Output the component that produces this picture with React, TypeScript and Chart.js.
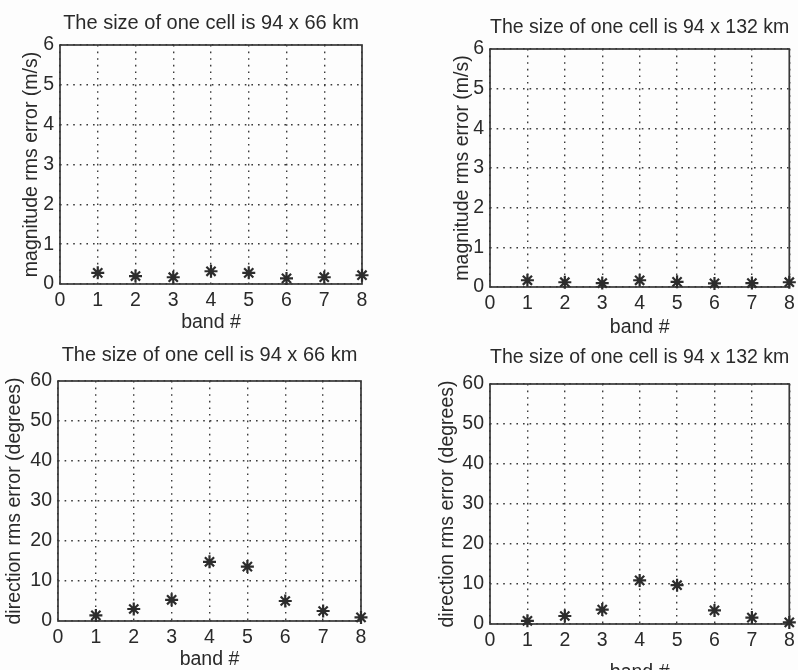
import React, { useEffect, useRef } from "react";
import { Chart, registerables } from "chart.js";

Chart.register(...registerables);

// ---- data ----
const bands = [1, 2, 3, 4, 5, 6, 7, 8];
const magRms66 = [0.28, 0.2, 0.17, 0.32, 0.28, 0.14, 0.17, 0.22];
const magRms132 = [0.17, 0.12, 0.1, 0.17, 0.13, 0.09, 0.1, 0.12];
const dirRms66 = [1.4, 3.0, 5.3, 14.8, 13.6, 5.0, 2.5, 0.9];
const dirRms132 = [0.8, 2.0, 3.6, 10.9, 9.7, 3.4, 1.6, 0.4];

const title66 = "The size of one cell is 94 x 66 km";
const title132 = "The size of one cell is 94 x 132 km";
const magLabel = "magnitude rms error (m/s)";
const dirLabel = "direction rms error (degrees)";
const xLabel = "band #";
const xRange = [0, 8];
const magRange = [0, 6];
const magStep = 1;
const dirRange = [0, 60];
const dirStep = 10;

const FONT = '"Liberation Sans", Arial, Helvetica, sans-serif';
const TEXT = "#2a2a2a";
const LINE = "#383838";
const TITLE_SIZE = 20;
const LABEL_SIZE = 19.5;
const TICK_SIZE = 19.5;

type Panel = {
  left: number; top: number; w: number; h: number;
  yW: number; yTitleCenter: number;
  titleCenter: number; chartTop: number;
  chartBottom: number; xTitleCenter: number;
  padRight: number;
  title: string; yLabel: string; values: number[];
  yMin: number; yMax: number; yStep: number;
};

// geometry (relative to each canvas)
const panels: Panel[] = [
  { left: 0, top: 0, w: 399, h: 360, yW: 60, yTitleCenter: 32, titleCenter: 23, chartTop: 45, chartBottom: 284, xTitleCenter: 323, padRight: 37,
    title: title66, yLabel: magLabel, values: magRms66, yMin: magRange[0], yMax: magRange[1], yStep: magStep },
  { left: 399, top: 0, w: 399, h: 360, yW: 91, yTitleCenter: 64, titleCenter: 27, chartTop: 49, chartBottom: 287, xTitleCenter: 328, padRight: 4,
    title: title132, yLabel: magLabel, values: magRms132, yMin: magRange[0], yMax: magRange[1], yStep: magStep },
  { left: 0, top: 335, w: 399, h: 360, yW: 58, yTitleCenter: 15, titleCenter: 20, chartTop: 46, chartBottom: 286, xTitleCenter: 325, padRight: 38,
    title: title66, yLabel: dirLabel, values: dirRms66, yMin: dirRange[0], yMax: dirRange[1], yStep: dirStep },
  { left: 399, top: 335, w: 399, h: 360, yW: 91, yTitleCenter: 49, titleCenter: 22, chartTop: 49, chartBottom: 289, xTitleCenter: 338, padRight: 6,
    title: title132, yLabel: dirLabel, values: dirRms132, yMin: dirRange[0], yMax: dirRange[1], yStep: dirStep },
];

const framePlugin = {
  id: "frame",
  beforeDatasetsDraw(chart: any) {
    const { ctx, chartArea } = chart;
    ctx.save();
    ctx.strokeStyle = LINE;
    ctx.lineWidth = 1.7;
    ctx.setLineDash([]);
    ctx.strokeRect(chartArea.left, chartArea.top, chartArea.right - chartArea.left, chartArea.bottom - chartArea.top);
    ctx.restore();
  },
};

function PanelChart({ p }: { p: Panel }) {
  const ref = useRef<HTMLCanvasElement | null>(null);
  useEffect(() => {
    if (!ref.current) return;
    const tLH = TITLE_SIZE * 1.2;
    const lLH = LABEL_SIZE * 1.2;
    const tPadTop = p.titleCenter - tLH / 2;
    const tPadBottom = p.chartTop - tLH - tPadTop;
    const xH = p.h - p.chartBottom;
    const xTitlePadBottom = p.h - p.xTitleCenter - lLH / 2;
    const yTitlePad = p.yTitleCenter - lLH / 2;
    const chart = new Chart(ref.current, {
      type: "scatter",
      data: {
        datasets: [
          {
            data: bands.map((b, i) => ({ x: b, y: p.values[i] })),
            pointStyle: "star",
            pointRadius: 6.5,
            pointBorderWidth: 2.2,
            borderColor: "#2c2c2c",
            backgroundColor: "#2c2c2c",
            clip: false,
          } as any,
        ],
      },
      options: {
        animation: false,
        responsive: false,
        maintainAspectRatio: false,
        devicePixelRatio: 1,
        layout: { padding: { left: 0, top: 0, right: p.padRight, bottom: 0 } },
        plugins: {
          legend: { display: false },
          tooltip: { enabled: false },
          title: {
            display: true,
            text: p.title,
            fullSize: false,
            color: TEXT,
            font: { family: FONT, size: TITLE_SIZE, weight: "normal", lineHeight: 1.2 },
            padding: { top: tPadTop, bottom: tPadBottom },
          },
        },
        scales: {
          x: {
            type: "linear",
            min: xRange[0],
            max: xRange[1],
            afterFit: (s: any) => {
              s.height = xH;
              s.paddingLeft = 0; s.paddingRight = 0; s.paddingTop = 0; s.paddingBottom = 0;
            },
            ticks: { stepSize: 1, color: TEXT, padding: 5, font: { family: FONT, size: TICK_SIZE, lineHeight: 1.2 } },
            grid: { color: "#3a3a3a", lineWidth: 1.4, drawTicks: false },
            border: { display: false, dash: [1.6, 5] },
            title: {
              display: true,
              text: xLabel,
              color: TEXT,
              font: { family: FONT, size: LABEL_SIZE, lineHeight: 1.2 },
              padding: { top: 0, bottom: xTitlePadBottom },
            },
          },
          y: {
            type: "linear",
            min: p.yMin,
            max: p.yMax,
            afterFit: (s: any) => {
              s.width = p.yW;
              s.paddingLeft = 0; s.paddingRight = 0; s.paddingTop = 0; s.paddingBottom = 0;
            },
            ticks: { stepSize: p.yStep, color: TEXT, padding: 6, font: { family: FONT, size: TICK_SIZE, lineHeight: 1.2 } },
            grid: { color: "#3a3a3a", lineWidth: 1.4, drawTicks: false },
            border: { display: false, dash: [1.6, 5] },
            title: {
              display: true,
              text: p.yLabel,
              color: TEXT,
              font: { family: FONT, size: LABEL_SIZE, lineHeight: 1.2 },
              padding: { top: yTitlePad, bottom: 0 },
            },
          },
        },
      } as any,
      plugins: [framePlugin],
    });
    return () => chart.destroy();
  }, [p]);
  return (
    <canvas
      ref={ref}
      width={p.w}
      height={p.h}
      style={{ position: "absolute", left: p.left, top: p.top, width: p.w, height: p.h }}
    />
  );
}

export default function App() {
  return (
    <div
      style={{
        position: "absolute",
        left: 0,
        top: 0,
        width: 798,
        height: 670,
        overflow: "hidden",
        background: "#fdfdfd",
      }}
    >
      {panels.map((p, i) => (
        <PanelChart key={i} p={p} />
      ))}
    </div>
  );
}
